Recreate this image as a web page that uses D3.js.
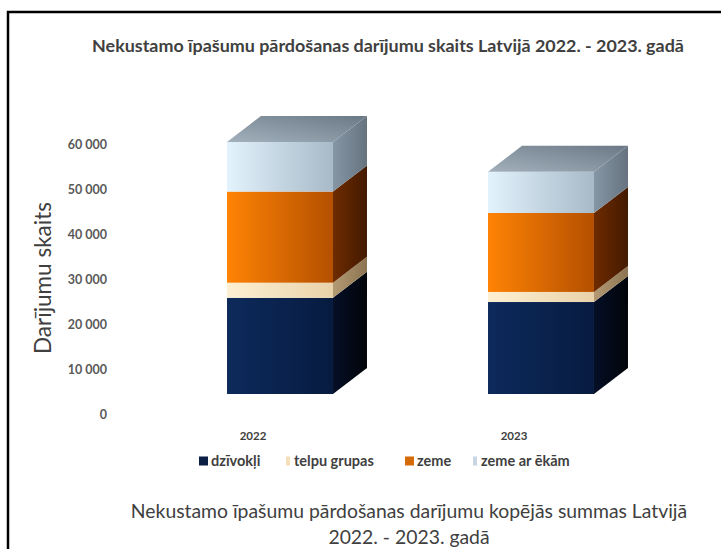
<!DOCTYPE html>
<html>
<head>
<meta charset="utf-8">
<script src="https://cdn.jsdelivr.net/npm/d3@7"></script>
<style>
  body { margin: 0; background: #fff; }
  text { font-family: Lato, "Open Sans", sans-serif; }
</style>
</head>
<body>
<div id="chart"></div>
<script>
var svgWidth = 721;
var svgHeight = 549;

// data
var years = ["2022", "2023"];
var seriesNames = ["dzīvokļi", "telpu grupas", "zeme", "zeme ar ēkām"];
var dzivokli = [22900, 21900];
var telpuGrupas = [3600, 2400];
var zeme = [21700, 18800];
var zemeArEkam = [11800, 9800];
var yTicks = [0, 10000, 20000, 30000, 40000, 50000, 60000];

var seriesValues = [dzivokli, telpuGrupas, zeme, zemeArEkam];

// colours for each series: front (left, right), side (left, right)
var palette = [
  { front: ["#0d2a5c", "#071b40"], side: ["#050f26", "#010409"], key: "#0b1f45" },
  { front: ["#fdf0d2", "#e9d2aa"], side: ["#b49a74", "#8c7452"], key: "#f3dfba" },
  { front: ["#ff8305", "#b45000"], side: ["#6e2b00", "#431a00"], key: "#d56a08" },
  { front: ["#e2f3fd", "#a8b9c8"], side: ["#8696a5", "#66737f"], key: "#c7d6e2" }
];

// depth of the 3D columns
var depthX = 34;
var depthY = -26;

var svg = d3.select("#chart")
  .append("svg")
  .attr("width", svgWidth)
  .attr("height", svgHeight);

var defs = svg.append("defs");

palette.forEach(function(p, i) {
  var gf = defs.append("linearGradient")
    .attr("id", "front" + i)
    .attr("x1", "0%").attr("x2", "100%").attr("y1", "0%").attr("y2", "0%");
  gf.append("stop").attr("offset", "0%").attr("stop-color", p.front[0]);
  gf.append("stop").attr("offset", "100%").attr("stop-color", p.front[1]);

  var gs = defs.append("linearGradient")
    .attr("id", "side" + i)
    .attr("x1", "0%").attr("x2", "100%").attr("y1", "0%").attr("y2", "0%");
  gs.append("stop").attr("offset", "0%").attr("stop-color", p.side[0]);
  gs.append("stop").attr("offset", "100%").attr("stop-color", p.side[1]);
});

var gt = defs.append("linearGradient")
  .attr("id", "topFace")
  .attr("x1", "0%").attr("x2", "100%").attr("y1", "100%").attr("y2", "0%");
gt.append("stop").attr("offset", "0%").attr("stop-color", "#a3b1bd");
gt.append("stop").attr("offset", "100%").attr("stop-color", "#6b7885");

// shrink or grow a text's font size until it spans the given width
function fitWidth(sel, target) {
  var node = sel.node();
  var size = parseFloat(sel.style("font-size"));
  var len = node.getComputedTextLength();
  sel.style("font-size", (size * target / len).toFixed(2) + "px");
  return sel;
}

// frame (left and top edge visible)
svg.append("path")
  .attr("d", "M8,549 V12 H721")
  .attr("fill", "none")
  .attr("stroke", "#000")
  .attr("stroke-width", 2.5);

// scales
var xScale = d3.scaleBand()
  .domain(years)
  .range([149.5, 671.5])
  .paddingInner(0.594)
  .paddingOuter(0.297);

// front face of the columns
var yScale = d3.scaleLinear()
  .domain([0, 60000])
  .range([394, 142]);

// value axis on the back wall
var yWall = d3.scaleLinear()
  .domain([0, 60000])
  .range([414, 144]);

var leftAxis = d3.axisLeft(yWall)
  .tickValues(yTicks)
  .tickSize(0)
  .tickPadding(0)
  .tickFormat(function(d) { return d3.format(",")(d).replace(/,/g, " "); });

var yAxis = svg.append("g")
  .attr("transform", "translate(107, 0)")
  .call(leftAxis);
yAxis.select(".domain").remove();
yAxis.selectAll("text")
  .attr("fill", "#595959")
  .style("font-size", "12.5px")
  .style("font-weight", 700)
  .style("font-family", "Lato, sans-serif");

// stack the series
var stackData = years.map(function(y, j) {
  var row = { year: y };
  seriesNames.forEach(function(s, i) { row[s] = seriesValues[i][j]; });
  return row;
});
var stacked = d3.stack().keys(seriesNames)(stackData);

var columns = svg.append("g");

stacked.forEach(function(layer, i) {
  layer.forEach(function(d) {
    var x0 = xScale(d.data.year);
    var w = xScale.bandwidth();
    var yTop = yScale(d[1]);
    var yBot = yScale(d[0]);

    // right side face
    columns.append("path")
      .attr("d", "M" + (x0 + w) + "," + yBot +
        " L" + (x0 + w + depthX) + "," + (yBot + depthY) +
        " L" + (x0 + w + depthX) + "," + (yTop + depthY) +
        " L" + (x0 + w) + "," + yTop + "Z")
      .attr("fill", "url(#side" + i + ")");

    // front face
    columns.append("rect")
      .attr("x", x0)
      .attr("y", yTop)
      .attr("width", w)
      .attr("height", yBot - yTop)
      .attr("fill", "url(#front" + i + ")");

    // top face on the last series
    if (i === stacked.length - 1) {
      columns.append("path")
        .attr("d", "M" + x0 + "," + yTop +
          " L" + (x0 + depthX) + "," + (yTop + depthY) +
          " L" + (x0 + w + depthX) + "," + (yTop + depthY) +
          " L" + (x0 + w) + "," + yTop + "Z")
        .attr("fill", "url(#topFace)");
    }
  });
});

// category labels
svg.append("g").selectAll("text")
  .data(years)
  .enter()
  .append("text")
  .attr("x", d => xScale(d) + xScale.bandwidth() / 2 - 27)
  .attr("y", 440)
  .attr("text-anchor", "middle")
  .attr("fill", "#404040")
  .style("font-size", "11.5px")
  .style("font-weight", 700)
  .text(d => d);

// titles
fitWidth(svg.append("text")
  .attr("x", 388)
  .attr("y", 52)
  .attr("text-anchor", "middle")
  .attr("fill", "#404040")
  .style("font-size", "15px")
  .style("font-weight", 700)
  .text("Nekustamo īpašumu pārdošanas darījumu skaits Latvijā 2022. - 2023. gadā"), 592);

fitWidth(svg.append("text")
  .attr("transform", "translate(51, 278) rotate(-90)")
  .attr("text-anchor", "middle")
  .attr("fill", "#404040")
  .style("font-size", "19px")
  .text("Darījumu skaits"), 152);

var bottomTitle = fitWidth(svg.append("text")
  .attr("x", 409)
  .attr("y", 518)
  .attr("text-anchor", "middle")
  .attr("fill", "#404040")
  .style("font-size", "17px")
  .text("Nekustamo īpašumu pārdošanas darījumu kopējās summas Latvijā"), 557);

svg.append("text")
  .attr("x", 409)
  .attr("y", 544)
  .attr("text-anchor", "middle")
  .attr("fill", "#404040")
  .style("font-size", bottomTitle.style("font-size"))
  .text("2022. - 2023. gadā");

// legend
var legendX = [199, 286, 405, 473];
var legend = svg.append("g").selectAll("g")
  .data(seriesNames)
  .enter()
  .append("g")
  .attr("transform", (d, i) => "translate(" + legendX[i] + ", 461)");

legend.append("rect")
  .attr("x", 0)
  .attr("y", -4.5)
  .attr("width", (d, i) => i === 1 || i === 3 ? 4 : 9)
  .attr("height", 9)
  .attr("fill", (d, i) => palette[i].key);

legend.append("text")
  .attr("x", (d, i) => i === 1 || i === 3 ? 8 : 12)
  .attr("y", 5)
  .attr("fill", "#404040")
  .style("font-size", "14.5px")
  .style("font-weight", 700)
  .text(d => d);
</script>
</body>
</html>
